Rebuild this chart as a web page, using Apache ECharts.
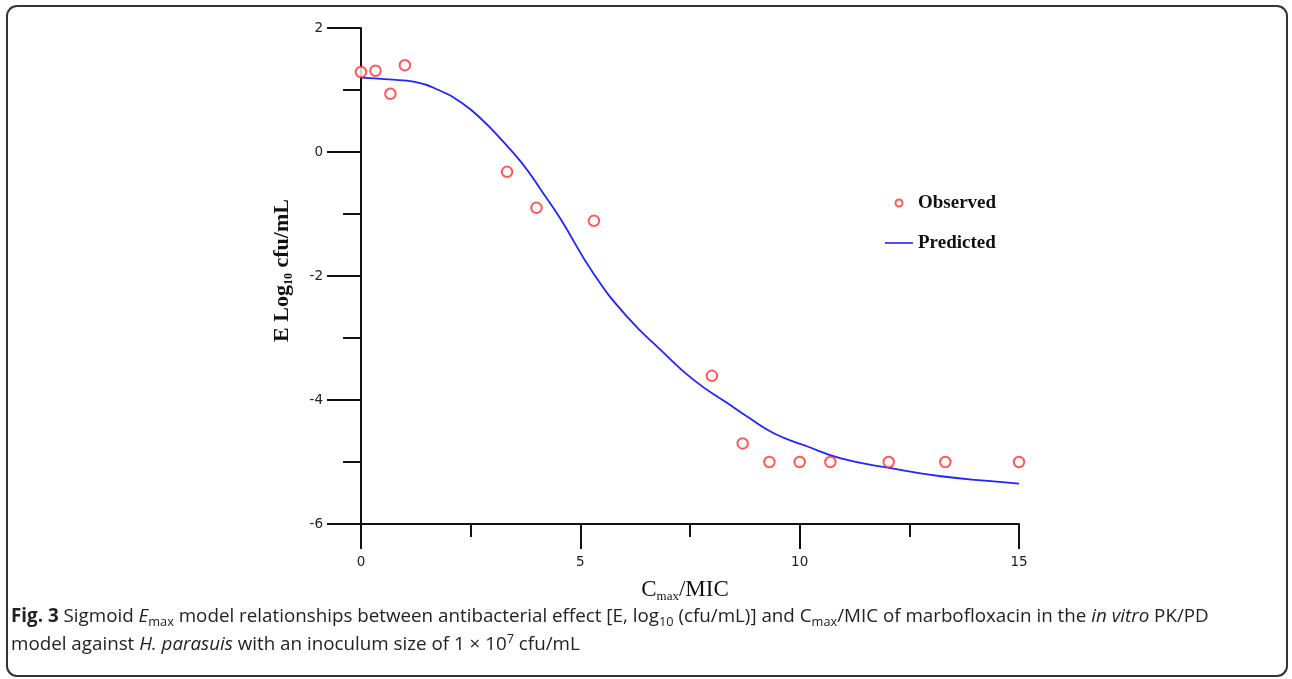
<!DOCTYPE html>
<html>
<head>
<meta charset="utf-8">
<script src="https://cdn.jsdelivr.net/npm/echarts@6/dist/echarts.min.js"></script>
<style>
  html, body { margin: 0; padding: 0; background: #fff; }
  body { width: 1292px; height: 679px; position: relative; overflow: hidden; }
  .frame {
    position: absolute; left: 6px; top: 5px; width: 1278px; height: 668px;
    border: 2px solid #333; border-radius: 11px;
  }
  #chart { position: absolute; left: 0; top: 0; width: 1292px; height: 679px; }
  .caption {
    position: absolute; left: 11px; top: 601px; width: 1270px;
    font-family: "Open Sans", "Noto Sans", sans-serif; font-size: 18.8px;
    line-height: 28px; color: #222; white-space: nowrap;
  }
  .caption sub { font-size: 68%; vertical-align: -4px; line-height: 0; }
  .caption sup { font-size: 68%; vertical-align: 7px; line-height: 0; }
</style>
</head>
<body>
<div class="frame"></div>
<div id="chart"></div>
<div class="caption">
  <b>Fig. 3</b> Sigmoid <i>E</i><sub>max</sub> model relationships between antibacterial effect [E, log<sub>10</sub> (cfu/mL)] and C<sub>max</sub>/MIC of marbofloxacin in the <i>in vitro</i> PK/PD<br>
  model against <i>H. parasuis</i> with an inoculum size of 1&nbsp;×&nbsp;10<sup>7</sup> cfu/mL
</div>
<script>
// observed points (Cmax/MIC, E log10 cfu/mL)
const obsX = [0, 0.33, 0.67, 1, 3.33, 4, 5.31, 8, 8.7, 9.31, 10, 10.7, 12.03, 13.32, 15]
const obsY = [1.29, 1.31, 0.94, 1.40, -0.32, -0.90, -1.11, -3.61, -4.70, -5.0, -5.0, -5.0, -5.0, -5.0, -5.0]

// predicted sigmoid Emax curve
const predX = [0, 0.62, 1.23, 1.77, 2.30, 2.76, 3.21, 3.67, 4.13, 4.54, 5.30, 6.07, 6.83, 7.59, 8.35, 8.81, 9.42, 10.18, 10.94, 12.08, 13.22, 14.36, 15]
const predY = [1.20, 1.17, 1.13, 1.00, 0.79, 0.52, 0.19, -0.18, -0.64, -1.07, -1.96, -2.66, -3.19, -3.68, -4.05, -4.27, -4.54, -4.75, -4.94, -5.10, -5.23, -5.31, -5.35]

const xTicks = { min: 0, max: 15, interval: 5 }
const yTicks = { min: -6, max: 2, interval: 2 }

const red = '#ff3030'
const blue = '#2323ff'
const axisColor = '#111'
const serif = '"Liberation Serif", "DejaVu Serif", serif'
const labelFont = '"DejaVu Sans", sans-serif'

const observed = obsX.map((x, i) => [x, obsY[i]])
const predicted = predX.map((x, i) => [x, predY[i]])

const chart = echarts.init(document.getElementById('chart'), null, { renderer: 'canvas' })

const option = {
  animation: false,
  backgroundColor: 'transparent',
  grid: {
    left: 361,
    top: 28,
    width: 658,
    height: 496
  },
  legend: {
    orient: 'vertical',
    left: 885,
    top: 193,
    padding: 0,
    itemWidth: 28,
    itemHeight: 7,
    itemGap: 20,
    symbolKeepAspect: true,
    textStyle: {
      fontFamily: serif,
      fontWeight: 'bold',
      fontSize: 19,
      lineHeight: 20,
      color: '#111'
    },
    data: [
      {
        name: 'Observed',
        icon: 'emptyCircle',
        itemStyle: { color: red, borderWidth: 1.5 }
      },
      {
        name: 'Predicted',
        icon: 'path://M0,0H28V1.6H0Z',
        itemStyle: { color: blue }
      }
    ]
  },
  xAxis: {
    type: 'value',
    min: xTicks.min,
    max: xTicks.max,
    interval: xTicks.interval,
    name: '{m|C}{s|max}{m|/MIC}',
    nameLocation: 'middle',
    nameGap: 53,
    nameTextStyle: {
      padding: [0, 10, 0, 0],
      rich: {
        m: { fontFamily: serif, fontSize: 23, color: '#111', lineHeight: 26 },
        s: { fontFamily: serif, fontSize: 13, color: '#111', lineHeight: 12, verticalAlign: 'bottom' }
      }
    },
    axisLine: { show: true, onZero: false, lineStyle: { color: axisColor, width: 2 } },
    axisTick: { show: true, length: 25, lineStyle: { color: axisColor, width: 2 } },
    minorTick: { show: true, splitNumber: 2, length: 13, lineStyle: { color: axisColor, width: 2 } },
    splitLine: { show: false },
    minorSplitLine: { show: false },
    axisLabel: { margin: 31, color: '#222', fontFamily: labelFont, fontSize: 13.5 }
  },
  yAxis: {
    type: 'value',
    min: yTicks.min,
    max: yTicks.max,
    interval: yTicks.interval,
    name: '{b|E Log}{s|10}{b| cfu/mL}',
    nameLocation: 'middle',
    nameGap: 66,
    nameTextStyle: {
      padding: [0, 0, 0, 11],
      rich: {
        b: { fontFamily: serif, fontWeight: 'bold', fontSize: 22, color: '#111', lineHeight: 25 },
        s: { fontFamily: serif, fontWeight: 'bold', fontSize: 12, color: '#111', lineHeight: 11, verticalAlign: 'bottom' }
      }
    },
    axisLine: { show: true, onZero: false, lineStyle: { color: axisColor, width: 2 } },
    axisTick: { show: true, length: 34, lineStyle: { color: axisColor, width: 2 } },
    minorTick: { show: true, splitNumber: 2, length: 18, lineStyle: { color: axisColor, width: 2 } },
    splitLine: { show: false },
    minorSplitLine: { show: false },
    axisLabel: { margin: 38, color: '#222', fontFamily: labelFont, fontSize: 13.5 }
  },
  series: [
    {
      name: 'Predicted',
      type: 'line',
      data: predicted,
      smooth: 0.5,
      symbol: 'none',
      lineStyle: { color: blue, width: 1.8 },
      itemStyle: { color: blue },
      z: 2
    },
    {
      name: 'Observed',
      type: 'scatter',
      data: observed,
      symbol: 'emptyCircle',
      symbolSize: 10.5,
      clip: false,
      itemStyle: { color: red, borderWidth: 1.8 },
      z: 3
    }
  ]
}

chart.setOption(option)
</script>
</body>
</html>
